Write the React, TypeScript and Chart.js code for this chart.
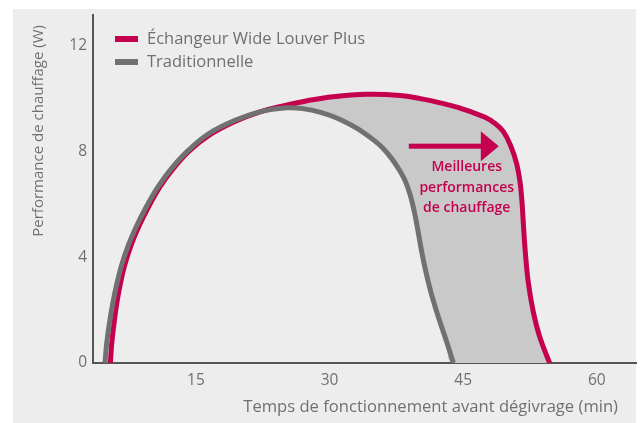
import React, { useEffect, useRef } from "react";
import { Chart, registerables } from "chart.js";

Chart.register(...registerables);

// ---- data (minutes, W) ----
const seriesLabels = ["Échangeur Wide Louver Plus", "Traditionnelle"];
const redX = [5.4, 5.55, 5.8, 6.1, 6.5, 7.02, 7.72, 8.63, 9.72, 11.0, 12.48, 14.32, 16.5, 19.25, 22.2, 25.0, 27.5, 30.4, 34.2, 37.9, 40.2, 42.4, 44.4, 46.1, 47.4, 48.5, 49.5, 50.4, 51.0, 51.4, 51.6, 51.75, 51.95, 52.3, 52.85, 53.6, 54.7];
const redY = [0, 0.73, 1.47, 2.22, 2.96, 3.71, 4.45, 5.19, 5.93, 6.68, 7.36, 8.04, 8.62, 9.12, 9.5, 9.74, 9.92, 10.07, 10.16, 10.12, 10.0, 9.84, 9.67, 9.47, 9.3, 9.08, 8.76, 8.16, 7.54, 6.8, 6.1, 5.3, 4.3, 3.08, 1.97, 0.98, 0];
const grayX = [4.8, 4.98, 5.28, 5.65, 6.1, 6.67, 7.41, 8.35, 9.47, 10.78, 12.27, 14.14, 16.38, 19.19, 22.19, 25.2, 27.0, 29.0, 31.0, 33.0, 35.0, 36.0, 37.0, 37.8, 38.5, 39.05, 39.5, 39.9, 40.35, 40.85, 41.4, 42.0, 42.55, 43.1, 43.9];
const grayY = [0, 0.73, 1.47, 2.22, 2.96, 3.71, 4.45, 5.19, 5.93, 6.68, 7.36, 8.04, 8.66, 9.15, 9.5, 9.65, 9.62, 9.48, 9.24, 8.89, 8.42, 8.12, 7.72, 7.32, 6.88, 6.36, 5.75, 5.05, 4.2, 3.4, 2.65, 1.97, 1.4, 0.85, 0];
const xTicks = [15, 30, 45, 60];
const yTicks = [0, 4, 8, 12];
const xTitle = "Temps de fonctionnement avant dégivrage (min)";
const yTitle = "Performance de chauffage (W)";
const noteLines = ["Meilleures", "performances", "de chauffage"];

const RED = "#c4004f";
const GRAY = "#717171";
const TEXT = "#707070";
const FONT = "'Open Sans', 'Noto Sans', sans-serif";

const toPts = (xs: number[], ys: number[]) => xs.map((x, i) => ({ x, y: ys[i] }));

const decor = {
  id: "decor",
  beforeDraw(chart: any) {
    const ctx = chart.ctx;
    ctx.save();
    ctx.fillStyle = "#ffffff";
    ctx.fillRect(0, 0, chart.width, chart.height);
    ctx.fillStyle = "#ededed";
    ctx.fillRect(13, 9, 623, 414);
    ctx.restore();
  },
  afterDraw(chart: any) {
    const ctx = chart.ctx;
    const xs = chart.scales.x;
    const ys = chart.scales.y;
    ctx.save();
    // legend
    const colors = [RED, GRAY];
    const baselines = [44, 67];
    const markY = [39, 62];
    seriesLabels.forEach((lab, i) => {
      ctx.fillStyle = colors[i];
      ctx.fillRect(115, markY[i] - 3, 23, 6);
      ctx.fillStyle = TEXT;
      ctx.font = `16.5px ${FONT}`;
      ctx.textAlign = "left";
      ctx.textBaseline = "alphabetic";
      ctx.fillText(lab, 147, baselines[i]);
    });
    // axis titles
    ctx.font = `16.6px ${FONT}`;
    ctx.fillStyle = TEXT;
    ctx.textAlign = "right";
    ctx.textBaseline = "alphabetic";
    ctx.fillText(xTitle, 618, 412);
    ctx.font = `15px ${FONT}`;
    ctx.save();
    ctx.translate(39, 25);
    ctx.rotate(-Math.PI / 2);
    ctx.textAlign = "right";
    ctx.textBaseline = "middle";
    ctx.fillText(yTitle, 0, 0);
    ctx.restore();
    // arrow
    const ay = ys.getPixelForValue(8.2);
    const ax0 = xs.getPixelForValue(38.9);
    const ax1 = xs.getPixelForValue(49.0);
    const headLen = 18;
    ctx.fillStyle = RED;
    ctx.fillRect(ax0, ay - 2.5, ax1 - ax0 - headLen + 2, 5);
    ctx.beginPath();
    ctx.moveTo(ax1, ay);
    ctx.lineTo(ax1 - headLen, ay - 15);
    ctx.lineTo(ax1 - headLen, ay + 15);
    ctx.closePath();
    ctx.fill();
    // note
    ctx.font = `600 14px ${FONT}`;
    ctx.textAlign = "center";
    ctx.textBaseline = "alphabetic";
    const nx = xs.getPixelForValue(45.4);
    [170.5, 191.5, 212].forEach((by, i) => ctx.fillText(noteLines[i], nx, by));
    ctx.restore();
  },
};

export default function App() {
  const ref = useRef<HTMLCanvasElement | null>(null);
  useEffect(() => {
    if (!ref.current) return;
    const red = toPts(redX, redY);
    const gray = toPts(grayX, grayY);
    const lower = [...gray, { x: 70, y: 0 }];
    const chart = new Chart(ref.current, {
      type: "line",
      data: {
        datasets: [
          {
            label: seriesLabels[0],
            data: red,
            borderColor: RED,
            borderWidth: 5,
            pointRadius: 0,
            tension: 0.4,
            fill: { target: 2, above: "#c9c9c9", below: "rgba(0,0,0,0)" },
            order: 1,
          },
          {
            label: seriesLabels[1],
            data: gray,
            borderColor: GRAY,
            borderWidth: 5,
            pointRadius: 0,
            tension: 0.4,
            fill: false,
            order: 0,
          },
          {
            label: "_lower",
            data: lower,
            borderWidth: 0,
            borderColor: "rgba(0,0,0,0)",
            pointRadius: 0,
            tension: 0.4,
            fill: false,
            order: 2,
          },
        ],
      },
      options: {
        animation: false,
        responsive: false,
        devicePixelRatio: 1,
        layout: { padding: { left: 0, top: 9, right: 4, bottom: 0 } },
        plugins: { legend: { display: false }, tooltip: { enabled: false } },
        scales: {
          x: {
            type: "linear",
            min: 3.45,
            max: 64.4,
            grid: { display: false, drawTicks: false },
            border: { display: true, color: "#555555", width: 2 },
            afterFit: (s: any) => { s.height = 60; },
            afterBuildTicks: (s: any) => { s.ticks = xTicks.map((v) => ({ value: v })); },
            ticks: { color: TEXT, font: { family: FONT, size: 15.5 }, padding: 8, maxRotation: 0 },
          },
          y: {
            type: "linear",
            min: 0,
            max: 13.15,
            grid: { display: false, drawTicks: false },
            border: { display: true, color: "#555555", width: 2 },
            afterFit: (s: any) => { s.width = 93; },
            afterBuildTicks: (s: any) => { s.ticks = yTicks.map((v) => ({ value: v })); },
            ticks: { color: TEXT, font: { family: FONT, size: 15.5 }, padding: 6 },
          },
        },
      },
      plugins: [decor],
    });
    return () => chart.destroy();
  }, []);
  return (
    <div style={{ position: "absolute", left: 0, top: 0, width: 640, height: 423 }}>
      <canvas ref={ref} width={640} height={423} style={{ display: "block" }} />
    </div>
  );
}
